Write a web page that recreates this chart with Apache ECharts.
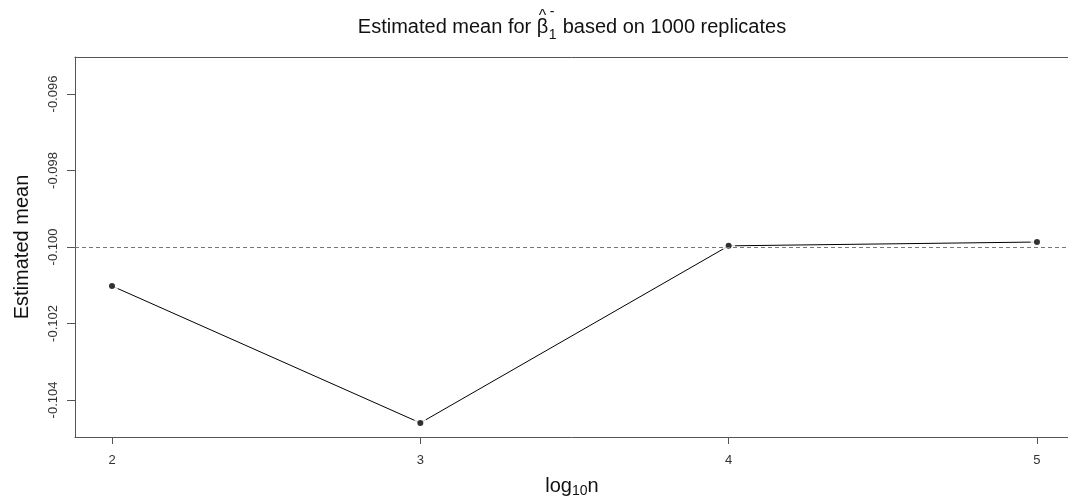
<!DOCTYPE html>
<html>
<head>
<meta charset="utf-8">
<script src="https://cdn.jsdelivr.net/npm/echarts@6/dist/echarts.min.js"></script>
<style>html,body{margin:0;padding:0;background:#fff;}#chart{width:1068px;height:504px;}</style>
</head>
<body>
<div id="chart"></div>
<script>
// ---- data ----
const xValues = [2, 3, 4, 5];
const meanValues = [-0.10102, -0.10460, -0.09997, -0.09987];
const xTicks = [2, 3, 4, 5];
const yTicks = [-0.104, -0.102, -0.100, -0.098, -0.096];
const referenceValue = -0.1;
const titleLeft = 'Estimated mean for ';
const titleRight = ' based on 1000 replicates';
const yName = 'Estimated mean';

// ---- layout helpers ----
const FONT = '"Liberation Sans", Arial, sans-serif';
const ctx = document.createElement('canvas').getContext('2d');
function tw(s, size) { ctx.font = size + 'px ' + FONT; return ctx.measureText(s).width; }
function txt(s, x, y, size, align) {
  return { type: 'text', silent: true, style: { text: s, x: x, y: y, font: size + 'px ' + FONT,
    fill: '#111', textAlign: align || 'left', textVerticalAlign: 'middle', verticalAlign: 'middle' } };
}

const points = xValues.map((x, i) => [x, meanValues[i]]);

// title pieces
const TS = 20, SS = 14;
const wA = tw(titleLeft, TS), wB = tw('β', TS), wS = tw('1', SS), wC = tw(titleRight, TS);
const tCenter = 572;
const tx0 = tCenter - (wA + wB + wS + 1 + wC) / 2;
const titleEls = [
  txt(titleLeft, tx0, 27, TS),
  txt('β', tx0 + wA, 27, TS),
  txt('^', tx0 + wA + wB / 2, 16.5, 16, 'center'),
  txt('1', tx0 + wA + wB + 0.5, 35.5, SS),
  txt('-', tx0 + wA + wB + 1.5, 12.5, SS),
  txt(titleRight, tx0 + wA + wB + wS + 1, 27, TS)
];

// x axis name: log10 n
const wl = tw('log', TS), w10 = tw('10', SS), wn = tw('n', TS);
const xc = 572, lx0 = xc - (wl + w10 + wn) / 2;
const xNameEls = [
  txt('log', lx0, 486, TS),
  txt('10', lx0 + wl, 491, SS),
  txt('n', lx0 + wl + w10, 486, TS)
];

const boxLine = { show: true, lineStyle: { color: '#555', width: 1 } };

const chart = echarts.init(document.getElementById('chart'), null, { renderer: 'canvas' });
chart.setOption({
  animation: false,
  backgroundColor: '#fff',
  grid: { left: 75, right: 0, top: 57, bottom: 67, show: false },
  xAxis: [{
    type: 'value', min: 1.88, max: 5.1006,
    axisLine: boxLine,
    splitLine: { show: false },
    axisTick: { show: true, inside: false, length: 7, customValues: xTicks, lineStyle: { color: '#555' } },
    axisLabel: { customValues: xTicks, margin: 17, fontSize: 13, color: '#333', fontFamily: FONT, formatter: v => String(v) }
  }, {
    type: 'value', position: 'top', min: 1.88, max: 5.1006,
    axisLine: boxLine, axisTick: { show: false }, axisLabel: { show: false }, splitLine: { show: false }
  }],
  yAxis: {
    type: 'value', min: -0.104968, max: -0.095032,
    name: yName, nameLocation: 'middle', nameRotate: 90, nameGap: 43,
    nameTextStyle: { fontSize: 20, color: '#111', fontFamily: FONT },
    axisLine: boxLine,
    splitLine: { show: false },
    axisTick: { show: true, inside: false, length: 8, customValues: yTicks, lineStyle: { color: '#555' } },
    axisLabel: { customValues: yTicks, rotate: 90, margin: 15, fontSize: 13, color: '#333', fontFamily: FONT, formatter: v => v.toFixed(3) }
  },
  graphic: titleEls.concat(xNameEls),
  series: [
    {
      type: 'line', data: points, z: 2,
      lineStyle: { color: '#000', width: 1 },
      showSymbol: false, symbol: 'none',
      silent: true
    },
    {
      type: 'scatter', data: points, z: 3,
      symbol: 'circle', symbolSize: 13,
      itemStyle: { color: '#fff' },
      silent: true
    },
    {
      type: 'scatter', data: points, z: 4,
      symbol: 'circle', symbolSize: 6,
      itemStyle: { color: '#000' },
      silent: true,
      markLine: {
        silent: true, symbol: 'none', label: { show: false },
        lineStyle: { color: '#777', type: [4, 3], width: 1 },
        data: [{ yAxis: referenceValue }]
      }
    }
  ]
});
</script>
</body>
</html>
